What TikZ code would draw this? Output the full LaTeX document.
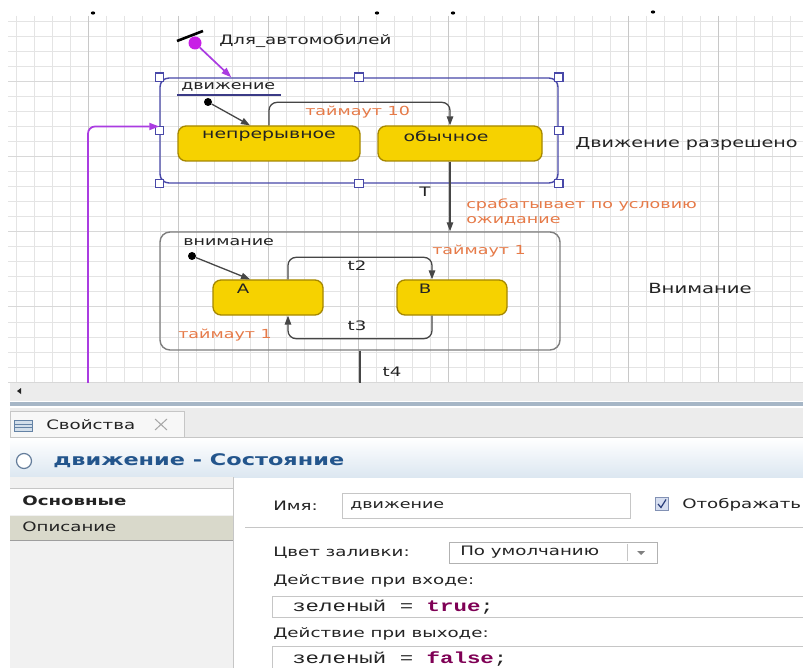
\documentclass[tikz,border=0pt]{standalone}
\usepackage{fontspec}
\setmainfont{DejaVu Sans}
\newfontfamily\codefont{Liberation Mono}
\usetikzlibrary{arrows.meta,calc}

\definecolor{gridminor}{RGB}{228,228,228}
\definecolor{gridmajor}{RGB}{200,200,200}
\definecolor{selblue}{RGB}{72,72,168}
\definecolor{statefill}{RGB}{246,210,0}
\definecolor{stateedge}{RGB}{165,135,0}
\definecolor{trgrey}{RGB}{70,70,70}
\definecolor{boxgrey}{RGB}{125,125,125}
\definecolor{orangetxt}{RGB}{230,122,72}
\definecolor{violetline}{RGB}{170,60,225}
\definecolor{violetdot}{RGB}{200,30,230}
\definecolor{uitext}{RGB}{35,35,35}
\definecolor{headblue}{RGB}{35,85,140}
\definecolor{kwpurple}{RGB}{127,0,85}
\definecolor{stripgrey}{RGB}{236,236,236}
\definecolor{sepblue}{RGB}{166,182,198}
\definecolor{panelgrey}{RGB}{241,241,241}
\definecolor{selrow}{RGB}{217,217,203}
\definecolor{frame}{RGB}{198,198,198}
\definecolor{iconfill}{RGB}{210,222,234}
\definecolor{iconedge}{RGB}{100,130,165}
\definecolor{headbottom}{RGB}{220,231,241}
\definecolor{headcircle}{RGB}{100,125,155}
\definecolor{checkfill}{RGB}{214,222,240}
\definecolor{checkedge}{RGB}{130,145,180}
\definecolor{checkmark}{RGB}{40,60,120}

\begin{document}
\begin{tikzpicture}[x=1pt,y=-1pt,
  txt/.style={inner sep=0pt, xscale=1.4, text=uitext, font=\fontsize{13}{15}\selectfont},
  orange/.style={txt, text=orangetxt, font=\fontsize{12.5}{14}\selectfont},
  mvbox/.style={draw=selblue, line width=1.4pt, rounded corners=9pt, minimum width=398pt, minimum height=105pt, inner sep=0pt},
  abox/.style={draw=boxgrey, line width=1.4pt, rounded corners=10pt, minimum width=400pt, minimum height=118pt, inner sep=0pt},
  handle/.style={draw=selblue, fill=white, line width=1.1pt, minimum size=8.5pt, inner sep=0pt},
  stbox/.style={draw=stateedge, fill=statefill, line width=1.3pt, rounded corners=8pt, minimum height=35pt, inner sep=0pt},
  idot/.style={circle, fill=black, inner sep=0pt, minimum size=8pt},
  pdot/.style={circle, fill=violetdot, inner sep=0pt, minimum size=13pt},
  tr/.style={draw=trgrey, line width=1.3pt, -{Triangle[length=9pt,width=6.5pt]}},
  trline/.style={draw=trgrey, line width=1.3pt},
  pur/.style={draw=violetline, line width=1.7pt, -{Triangle[length=10pt,width=7pt]}},
  field/.style={draw=frame, fill=white, line width=0.8pt},
  code/.style={inner sep=0pt, xscale=1.4, text=uitext, font=\codefont\fontsize{16}{18}\selectfont}
]
\useasboundingbox (0,0) rectangle (803,668);
\fill[white] (0,0) rectangle (803,668);

% ---------- editor grid ----------
\foreach \x in {16,34,...,803} \draw[gridminor, line width=1pt] (\x,16) -- (\x,383);
\foreach \y in {22,37,...,383} \draw[gridminor, line width=1pt] (8,\y) -- (803,\y);
\foreach \x in {88,178,...,803} \draw[gridmajor, line width=1pt] (\x,16) -- (\x,383);
\foreach \y in {82,157,...,383} \draw[gridmajor!70!white, line width=1pt] (8,\y) -- (803,\y);

% clipped glyph remnants along the top edge
\fill[black] (93,13) ellipse (2.2pt and 1.6pt);
\fill[black] (377,13) ellipse (2.2pt and 1.6pt);
\fill[black] (453,13) ellipse (2.2pt and 1.6pt);
\fill[black] (653,12) ellipse (2.2pt and 1.6pt);

% ---------- composite state "движение" ----------
\node[mvbox] (mv) at (359,130.5) {};
\node[txt, anchor=west, font=\fontsize{12.5}{14}\selectfont] (mvlabel) at (181,87) {движение};
\draw[selblue!80!black, line width=1.1pt] (177,95) -- (281,95);

\node[stbox, minimum width=182pt] (np) at (269,143.5) {};
\node[stbox, minimum width=164pt] (ob) at (460,143.5) {};
\node[txt, font=\fontsize{13.5}{15}\selectfont] (npt) at (269,136) {непрерывное};
\node[txt, font=\fontsize{13.5}{15}\selectfont] (obt) at (446,136) {обычное};

\node[idot] (i1) at (208,102) {};
\draw[tr] (i1) -- ($(np.north)+(-19,0)$);

\draw[tr, rounded corners=8pt] (np.north) -- ++(0,-23) -| ($(ob.north)+(-10,0)$);
\node[orange, anchor=west] (lt10) at (305,112) {таймаут 10};

% selection handles
\foreach \a/\n in {north west/nw, north/n, north east/ne, west/w, east/e, south west/sw, south/s, south east/se}
  \node[handle] (h\n) at (mv.\a) {};

% ---------- state "внимание" ----------
\node[abox] (att) at (360,291) {};
\node[txt, anchor=west, font=\fontsize{12.5}{14}\selectfont] (attlabel) at (183,242) {внимание};

\coordinate (tx) at ($(ob.south)+(-10,0)$);
\draw[tr] (tx) -- (tx |- att.north);
\node[txt] (tT) at (425,192) {T};
\node[orange, anchor=west] (cond1) at (466,205) {срабатывает по условию};
\node[orange, anchor=west] (cond2) at (466,221) {ожидание};

\node[stbox, minimum width=110pt] (A) at (268,297.5) {};
\node[stbox, minimum width=110pt] (B) at (452,297.5) {};
\node[txt] (At) at (243,289) {A};
\node[txt] (Bt) at (425,289) {B};

\node[idot] (i2) at (192,256) {};
\draw[tr] (i2) -- ($(A.north)+(-18,0)$);

\draw[tr, rounded corners=8pt] ($(A.north)+(20,0)$) -- ++(0,-22) -| ($(B.north)+(-20,0)$);
\draw[tr, rounded corners=8pt] ($(B.south)+(-20,0)$) -- ++(0,23) -| ($(A.south)+(20,0)$);
\node[txt] (t2) at (357,266) {t2};
\node[txt] (t3) at (357,326) {t3};
\node[orange, anchor=west] (lt1b) at (432,251) {таймаут 1};
\node[orange, anchor=west] (lt1a) at (178,335) {таймаут 1};

\coordinate (t4end) at (360,383);
\draw[trline] (att.south) -- (t4end);
\node[txt] (t4) at (392,372) {t4};

% ---------- entry pointer and history link ----------
\draw[black, line width=2.6pt] (177,41) -- (203,31);
\node[pdot] (p0) at (195,43) {};
\draw[pur] (p0) -- ($(mv.north west)+(72,0)$);
\node[txt, anchor=west] (carlabel) at (219,41) {Для\_автомобилей};

\coordinate (pb) at (88,383);
\draw[pur, rounded corners=7pt] (pb) |- ($(mv.west)+(0,-4)$);

% side captions
\node[txt, anchor=west, font=\fontsize{13.7}{16}\selectfont] (cap1) at (575,144) {Движение разрешено};
\node[txt, anchor=west, font=\fontsize{14}{16}\selectfont] (cap2) at (648,288) {Внимание};

% ---------- properties view ----------
\fill[stripgrey] (10,383) rectangle (803,401);
\fill[uitext] (17,391) -- (21,388) -- (21,394) -- cycle;
\fill[sepblue] (10,402) rectangle (803,406);
\fill[stripgrey] (10,408) rectangle (803,437);
\draw[frame, line width=0.8pt] (10,437) -- (803,437);
\draw[frame, fill=white!60!stripgrey, line width=0.8pt] (10,411) rectangle (184,437);
% tab icon and close mark
\draw[fill=iconfill, draw=iconedge, line width=0.8pt] (14,420) rectangle (32,431);
\draw[iconedge, line width=0.6pt] (14,424) -- (32,424) (14,427.5) -- (32,427.5);
\node[txt, anchor=west, font=\fontsize{13}{15}\selectfont] (tabtxt) at (46,425) {Свойства};
\draw[gray!70, line width=1pt] (155,419) -- (167,430) (155,430) -- (167,419);

% header band
\shade[top color=white, bottom color=headbottom] (10,438) rectangle (803,477);
\draw[headcircle, fill=white, line width=1.2pt] (24,461) circle (7.5pt);
\node[txt, anchor=west, text=headblue, font=\bfseries\fontsize{16}{18}\selectfont] (hdr) at (53,461) {движение - Состояние};

% left page list
\fill[panelgrey] (10,477) rectangle (233,668);
\draw[frame, line width=0.8pt] (10,488) -- (233,488);
\fill[white] (10,489) rectangle (233,515);
\fill[selrow] (10,516) rectangle (233,540);
\draw[frame!80!black, line width=0.8pt] (10,540) -- (233,540);
\draw[frame, line width=0.8pt] (233,477) -- (233,668);
\node[txt, anchor=west, font=\bfseries\fontsize{13}{15}\selectfont] (pg1) at (22,501) {Основные};
\node[txt, anchor=west] (pg2) at (22,527) {Описание};

% right page content
\node[txt, anchor=west] (lname) at (273,506) {Имя:};
\draw[field] (342,493) rectangle (630,518);
\node[txt, anchor=west, font=\fontsize{12.5}{14}\selectfont] (vname) at (350,506) {движение};
\draw[fill=checkfill, draw=checkedge, line width=0.8pt] (655,497) rectangle (668,510);
\draw[checkmark, line width=1.2pt] (658,504) -- (661,507.5) -- (666,499.5);
\node[txt, anchor=west, font=\fontsize{13}{15}\selectfont] (lshow) at (682,505) {Отображать};
\draw[frame, line width=0.8pt] (245,527) -- (803,527);

\node[txt, anchor=west] (lfill) at (273,553) {Цвет заливки:};
\draw[field, draw=frame!90!black] (449,542) rectangle (657,563);
\draw[frame, line width=0.6pt] (627,544) -- (627,561);
\node[txt, anchor=west, font=\fontsize{13}{15}\selectfont] (vfill) at (460,552.5) {По умолчанию};
\fill[gray] (637,551) -- (645,551) -- (641,555) -- cycle;

\node[txt, anchor=west] (lenter) at (273,581) {Действие при входе:};
\draw[field] (272,596) rectangle (810,617);
\node[code, anchor=west] (venter) at (292,607) {зеленый = \textcolor{kwpurple}{\bfseries true};};

\node[txt, anchor=west] (lexit) at (273,634) {Действие при выходе:};
\draw[field] (272,646) rectangle (810,675);
\node[code, anchor=west] (vexit) at (292,659) {зеленый = \textcolor{kwpurple}{\bfseries false};};
\end{tikzpicture}
\end{document}
